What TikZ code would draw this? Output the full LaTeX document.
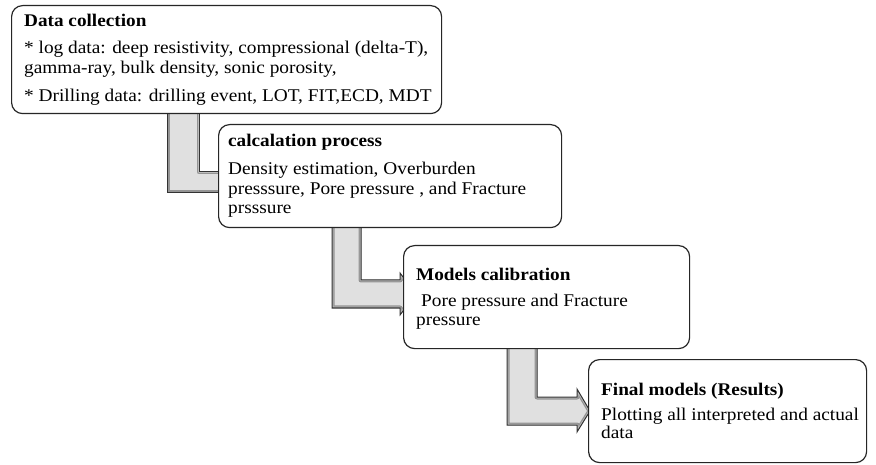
\documentclass[tikz,border=0pt]{standalone}
\usepackage{fontspec}
\setmainfont{Liberation Serif}[FakeStretch=1.08]
\usetikzlibrary{calc}
\tikzset{
  box/.style={draw=black!85, line width=1.2pt, rounded corners=11pt, fill=white, anchor=north west, inner sep=0pt},
  txt/.style={anchor=base west, inner sep=0pt, font=\fontsize{17.9}{20}\selectfont},
  ttl/.style={anchor=base west, inner sep=0pt, font=\fontsize{17.8}{20}\selectfont\bfseries},
  arrowfill/.style={fill=black!12},
  arrowedge/.style={draw=black!80, line width=1pt},
}
\newcommand{\blockarrow}[1]{%
  \fill[arrowfill] #1;
  \begin{scope}\clip #1; \draw[black!42, line width=5pt, line join=round] #1; \end{scope}
  \begin{scope}\clip #1; \draw[black!26, line width=2.5pt, line join=round] #1; \end{scope}
  \draw[arrowedge, line join=miter] #1;
}
\begin{document}
\begin{tikzpicture}[x=1pt,y=-1pt]
\useasboundingbox (0,0) rectangle (876,465);
\fill[white] (0,0) rectangle (876,465);

% block arrows (connectors)
\blockarrow{(167,108) -- (167,193) -- (226,193) -- (226,172) -- (199,172) -- (199,108) -- cycle}
\blockarrow{(332,222) -- (332,308) -- (400,308) -- (400,315) -- (416,294) -- (400,273) -- (400,280) -- (361,280) -- (361,222) -- cycle}
\blockarrow{(507,343) -- (507,425) -- (577,425) -- (577,432) -- (590,411) -- (577,389) -- (577,397) -- (537,397) -- (537,343) -- cycle}

% boxes
\node[box, minimum width=430pt, minimum height=108pt] (b1) at (11,5) {};
\node[box, minimum width=343pt, minimum height=103pt] (b2) at (218,124) {};
\node[box, minimum width=286pt, minimum height=103pt] (b3) at (403,245) {};
\node[box, minimum width=278pt, minimum height=103pt] (b4) at (588,359) {};

% box 1 text
\node[ttl] (t1) at (24,27) {Data collection};
\node[txt] (t1a) at (24,54) {* log data: deep resistivity, compressional (delta-T),};
\node[txt] (t1b) at (24,74) {gamma-ray, bulk density, sonic porosity,};
\node[txt] (t1c) at (24,102) {* Drilling data: drilling event, LOT, FIT,ECD, MDT};

% box 2 text
\node[ttl] (t2) at (228,147) {calcalation process};
\node[txt] (t2a) at (228,175) {Density estimation, Overburden};
\node[txt] (t2b) at (228,195) {presssure, Pore pressure , and Fracture};
\node[txt] (t2c) at (228,214) {prsssure};

% box 3 text
\node[ttl] (t3) at (416,280) {Models calibration};
\node[txt] (t3a) at (421,307) {Pore pressure and Fracture};
\node[txt] (t3b) at (416,325) {pressure};

% box 4 text
\node[ttl] (t4) at (601,395) {Final models (Results)};
\node[txt] (t4a) at (601,420) {Plotting all interpreted and actual};
\node[txt] (t4b) at (601,438) {data};
\end{tikzpicture}
\end{document}
